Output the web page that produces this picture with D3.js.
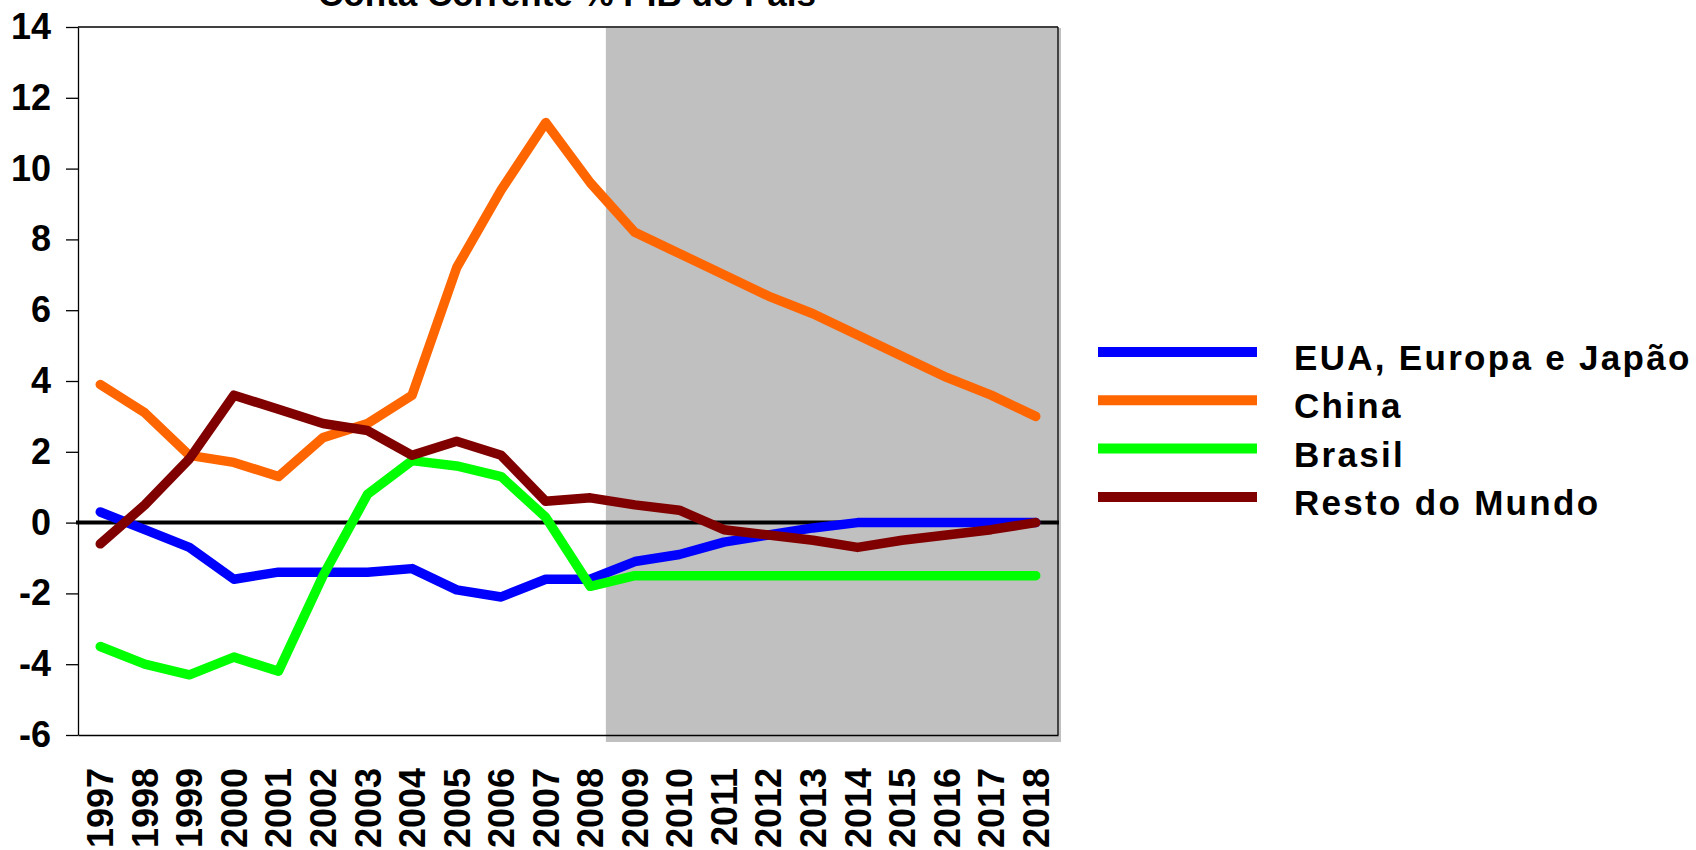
<!DOCTYPE html>
<html>
<head>
<meta charset="utf-8">
<script src="https://cdn.jsdelivr.net/npm/d3@7"></script>
<style>
  body { margin: 0; background: #fff; }
  svg text { font-family: "Liberation Sans", Arial, sans-serif; font-weight: bold; fill: #000; }
</style>
</head>
<body>
<svg id="chart" width="1696" height="850"></svg>
<script>
// Values (conta corrente, % do PIB)
var years = ["1997", "1998", "1999", "2000", "2001", "2002", "2003", "2004", "2005", "2006", "2007",
             "2008", "2009", "2010", "2011", "2012", "2013", "2014", "2015", "2016", "2017", "2018"]
var seriesNames = ["EUA, Europa e Japão", "China", "Brasil", "Resto do Mundo"]
var eua = [0.3, -0.2, -0.7, -1.6, -1.4, -1.4, -1.4, -1.3, -1.9, -2.1, -1.6,
           -1.6, -1.1, -0.9, -0.55, -0.35, -0.15, 0, 0, 0, 0, 0]
var china = [3.9, 3.1, 1.9, 1.7, 1.3, 2.4, 2.8, 3.6, 7.2, 9.4, 11.3,
             9.6, 8.2, 7.6, 7.0, 6.4, 5.9, 5.3, 4.7, 4.1, 3.6, 3.0]
var brasil = [-3.5, -4.0, -4.3, -3.8, -4.2, -1.5, 0.8, 1.75, 1.6, 1.3, 0.15,
              -1.8, -1.5, -1.5, -1.5, -1.5, -1.5, -1.5, -1.5, -1.5, -1.5, -1.5]
var resto = [-0.6, 0.5, 1.8, 3.6, 3.2, 2.8, 2.6, 1.9, 2.3, 1.9, 0.6,
             0.7, 0.5, 0.35, -0.2, -0.35, -0.5, -0.7, -0.5, -0.35, -0.2, 0]
var yTicks = [-6, -4, -2, 0, 2, 4, 6, 8, 10, 12, 14]
var projectionStart = "2009"   // shaded area = projection
var title = "Conta Corrente % PIB do País"

// layout numbers
var Plot = { left: 78, right: 1058, top: 27, bottom: 735 }
var Legend = { x1: 1098, x2: 1257, textX: 1294, y0: 352, dy: 48.3 }
var colors = ["#0000ff", "#ff6600", "#00ff00", "#800000"]

d3.select(window).on('load', main)

function main() {
  let allSeries = [eua, china, brasil, resto]
  let svg = d3.select("#chart")

  let xScale = d3.scaleBand()
    .domain(years)
    .range([Plot.left, Plot.right])
    .padding(0)

  let yScale = d3.scaleLinear()
    .domain([yTicks[0], yTicks[yTicks.length - 1]])
    .range([Plot.bottom, Plot.top])

  let xMid = function(d) { return xScale(d) + xScale.bandwidth() / 2 }

  // Title, only its lower part fits in the picture
  svg.append("text")
    .attr("x", 567)
    .attr("y", 6)
    .attr("text-anchor", "middle")
    .style("font-size", "35px")
    .text(title)

  // grey projection block, slightly offset like a drop shadow
  let shadeX = xScale(projectionStart) - 0.15 * xScale.step()
  svg.append("rect")
    .attr("x", shadeX)
    .attr("y", Plot.top + 1)
    .attr("width", Plot.right + 3 - shadeX)
    .attr("height", Plot.bottom + 7 - Plot.top - 1)
    .attr("fill", "#c0c0c0")

  // Y axis
  let yAxis = svg.append("g")
    .attr("transform", "translate(" + Plot.left + ",0)")
    .call(d3.axisLeft(yScale)
      .tickValues(yTicks)
      .tickSize(12)
      .tickSizeOuter(0)
      .tickPadding(15)
      .tickFormat(function(d) { return String(d) }))
  yAxis.attr("font-family", null).attr("font-size", null)
  yAxis.selectAll("line").attr("stroke", "#000").attr("stroke-width", 1.3)
  yAxis.select(".domain").attr("stroke", "#000").attr("stroke-width", 1.3)
  yAxis.selectAll("text")
    .style("font-size", "36px")

  // X axis with vertical year labels
  let xAxis = svg.append("g")
    .attr("transform", "translate(0," + Plot.bottom + ")")
    .call(d3.axisBottom(xScale).tickSize(0).tickSizeOuter(0))
  xAxis.attr("font-family", null).attr("font-size", null)
  xAxis.select(".domain").attr("stroke", "#000").attr("stroke-width", 1.3)
  xAxis.selectAll("text")
    .attr("transform", "rotate(-90)")
    .attr("x", -33)
    .attr("y", 0)
    .attr("dy", "0.36em")
    .style("text-anchor", "end")
    .style("font-size", "36px")

  // top and right border of the plot area
  svg.append("line")
    .attr("x1", Plot.left).attr("x2", Plot.right)
    .attr("y1", Plot.top).attr("y2", Plot.top)
    .attr("stroke", "#000").attr("stroke-width", 1.3)
  svg.append("line")
    .attr("x1", Plot.right).attr("x2", Plot.right)
    .attr("y1", Plot.top).attr("y2", Plot.bottom)
    .attr("stroke", "#000").attr("stroke-width", 1.3)

  // zero line
  svg.append("line")
    .attr("x1", Plot.left - 2).attr("x2", Plot.right + 1)
    .attr("y1", yScale(0)).attr("y2", yScale(0))
    .attr("stroke", "#000").attr("stroke-width", 4)

  let line = d3.line()
    .x(function(d, i) { return xMid(years[i]) })
    .y(function(d) { return yScale(d) })

  svg.append("g")
    .selectAll("path")
    .data(allSeries)
    .enter()
    .append("path")
    .attr("d", line)
    .attr("fill", "none")
    .attr("stroke", function(d, i) { return colors[i] })
    .attr("stroke-width", 9.5)
    .attr("stroke-linecap", "round")
    .attr("stroke-linejoin", "round")

  // Legend
  let legend = svg.append("g")
    .selectAll("g")
    .data(seriesNames)
    .enter()
    .append("g")
    .attr("transform", function(d, i) { return "translate(0," + (Legend.y0 + i * Legend.dy) + ")" })

  legend.append("line")
    .attr("x1", Legend.x1).attr("x2", Legend.x2)
    .attr("y1", 0).attr("y2", 0)
    .attr("stroke", function(d, i) { return colors[i] })
    .attr("stroke-width", 10)

  legend.append("text")
    .attr("x", Legend.textX)
    .attr("y", 18)
    .style("font-size", "35px")
    .style("letter-spacing", "2.3px")
    .text(function(d) { return d })
}
</script>
</body>
</html>
